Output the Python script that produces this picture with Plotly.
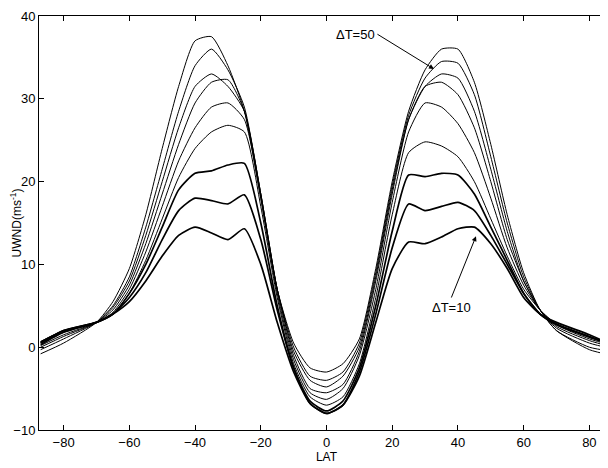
import plotly.graph_objects as go

lat = [-87, -80, -70, -65, -60, -55, -50, -45, -40, -35, -30, -25, -20, -15, -10, -5, 0,
       5, 10, 15, 20, 25, 30, 35, 40, 45, 50, 55, 60, 65, 70, 80, 87]

# zonal wind profiles for dT = 10 .. 50
u10 = [0.3, 1.8, 3, 4, 5.5, 8, 11, 13.5, 14.5, 13.8, 13, 14.3, 10, 3, -3, -6.8, -8,
       -7, -3.5, 3, 9.5, 12.7, 12.5, 13.3, 14.3, 14.5, 12.5, 9.5, 6, 4, 3, 1.5, 0.3]
u15 = [0.5, 2, 3, 4, 6, 9, 13, 16.5, 18, 17.7, 17.3, 18.4, 13, 4.5, -2.5, -6.8, -8,
       -7, -3, 4, 12, 17.3, 16.5, 17, 17.5, 16.5, 13.5, 10, 6.5, 4, 2.8, 1.3, 0.3]
u20 = [0.6, 2, 3, 4, 6.5, 10, 14.5, 19, 21, 21.3, 22, 22.2, 15, 5, -2.5, -6.5, -7.7,
       -6.5, -2.5, 5, 14, 20.8, 20.6, 21, 20.8, 18.5, 14.5, 10.5, 6.5, 4, 2.7, 1.2, 0.3]
u25 = [0.7, 2, 3, 4, 6.5, 10.5, 15.5, 20.5, 24, 26, 26.8, 26, 17, 6, -2, -6, -7,
       -6, -2, 6, 16, 23.5, 24.8, 24.3, 23, 20, 15.5, 11, 7, 4.5, 2.8, 1.3, 0.3]
u30 = [0.5, 1.8, 3, 4.2, 7, 11.5, 17, 22.5, 26.5, 29, 29.5, 27.5, 18, 6.5, -1.5, -5.5, -6.3,
       -5, -1, 7, 17.5, 26, 29.5, 29, 27, 23.5, 18, 12, 7.5, 4.5, 2.7, 1, 0.2]
u35 = [0.2, 1.5, 3, 4.5, 7.5, 12.5, 18.5, 24.5, 29.5, 32, 32.3, 28.5, 18.5, 7, -1, -5, -5.5,
       -4.5, -0.5, 8, 18.5, 27.5, 31.5, 32, 30.5, 26.5, 20, 13, 8, 4.5, 2.5, 0.8, 0]
u40 = [0, 1.3, 3, 4.8, 8, 13.5, 20, 26.5, 31.5, 33, 31.5, 28.5, 18.5, 7, -0.5, -4, -4.8,
       -3.5, 0, 8.5, 19, 27.5, 31.5, 33, 32.5, 28.5, 21.5, 14, 8, 4.5, 2.3, 0.5, -0.2]
u45 = [-0.3, 1, 3, 5, 8.5, 14.5, 21.5, 28.5, 34, 36, 33.5, 29, 18.5, 7, 0, -3.5, -4,
       -3, 0.5, 9, 19.5, 28, 32.5, 34.5, 34.3, 30.5, 23, 15, 8.5, 4.5, 2, 0, -0.5]
u50 = [-0.8, 0.5, 3, 5.5, 9.5, 16, 24, 31.5, 37, 37.5, 34, 28.5, 18, 7, 0.5, -2.5, -3,
       -2, 1, 9.5, 20, 28.5, 33.5, 36, 36, 32, 24.5, 16, 9, 4.5, 2, -0.3, -1]

profiles = [u10, u15, u20, u25, u30, u35, u40, u45, u50]
widths = [1.7, 1.7, 1.7, 1, 1, 1, 1, 1, 1]

fig = go.Figure()
for u, w in zip(profiles, widths):
    fig.add_trace(go.Scatter(x=lat, y=u, mode="lines", line=dict(color="black", width=w, shape="spline", smoothing=0.6),
                             showlegend=False, hoverinfo="skip"))

fig.add_annotation(x=32.7, y=33.6, ax=15.5, ay=37.8, xref="x", yref="y", axref="x", ayref="y",
                   text="ΔT=50", xanchor="right", showarrow=True, arrowhead=2, arrowsize=1, arrowwidth=1,
                   arrowcolor="black", font=dict(size=13, color="black"))
fig.add_annotation(x=45.5, y=13.4, ax=38, ay=6, xref="x", yref="y", axref="x", ayref="y",
                   text="ΔT=10", yanchor="top", showarrow=True, arrowhead=2, arrowsize=1, arrowwidth=1,
                   arrowcolor="black", font=dict(size=13, color="black"))

axis = dict(showgrid=False, zeroline=False, showline=True, linecolor="black", linewidth=1, mirror="ticks",
            ticks="inside", ticklen=5, tickcolor="black", tickfont=dict(size=13, color="black"),
            automargin=False)
fig.update_layout(
    width=608, height=468, margin=dict(l=31, r=2, t=8, b=46),
    plot_bgcolor="white", paper_bgcolor="white",
    font=dict(family="Liberation Sans, Arial, sans-serif", color="black"),
    xaxis=dict(axis, range=[-87.5, 87.5], tickvals=[-80, -60, -40, -20, 0, 20, 40, 60, 80],
               title=dict(text="LAT", font=dict(size=12), standoff=0)),
    yaxis=dict(axis, range=[-10, 40], tickvals=[-10, 0, 10, 20, 30, 40],
               title=dict(text="UWND(ms<sup>-1</sup>)", font=dict(size=12), standoff=2)),
)

fig.write_html("out.html")
